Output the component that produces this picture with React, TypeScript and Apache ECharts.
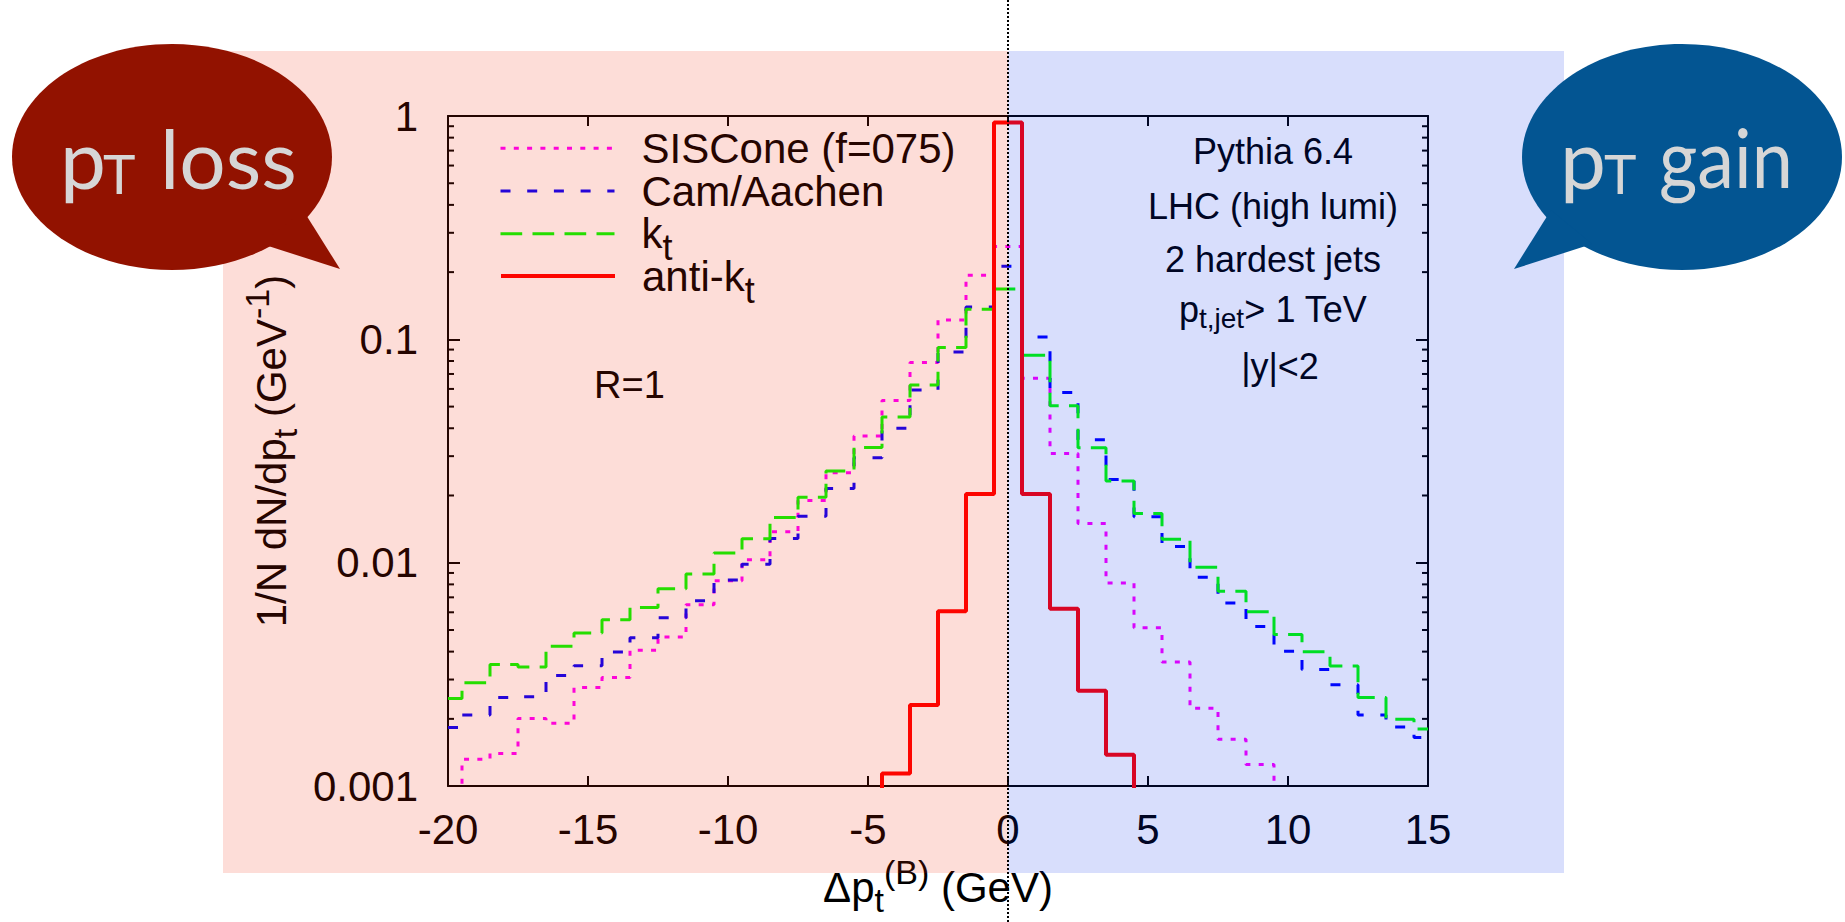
import React, { useEffect, useRef } from 'react';
import * as echarts from 'echarts';

const FONT = '"Liberation Sans", Arial, Helvetica, sans-serif';
const BUBBLE_FONT = 'Lato, "Open Sans", sans-serif';

// bin centres (1 GeV bins, edges at k+0.5)
const binCenters = [-20, -19, -18, -17, -16, -15, -14, -13, -12, -11, -10, -9, -8, -7, -6, -5, -4, -3, -2, -1, 0, 1, 2, 3, 4, 5, 6, 7, 8, 9, 10, 11, 12, 13, 14, 15];

// SISCone (f=075), bins -20 .. 10
const sisconeBins = [-20, -19, -18, -17, -16, -15, -14, -13, -12, -11, -10, -9, -8, -7, -6, -5, -4, -3, -2, -1, 0, 1, 2, 3, 4, 5, 6, 7, 8, 9, 10];
const sisconeValues = [0.0009, 0.00132, 0.0014, 0.00201, 0.00191, 0.00276, 0.00306, 0.00406, 0.00465, 0.00649, 0.0083, 0.0103, 0.01377, 0.01897, 0.0253, 0.0369, 0.0532, 0.0788, 0.1221, 0.1936, 0.2608, 0.0669, 0.0308, 0.015, 0.00811, 0.00511, 0.00359, 0.00223, 0.00162, 0.00125, 0.0009];

// Cam/Aachen, bins -20 .. 15
const camAachenValues = [0.00183, 0.00208, 0.00249, 0.00251, 0.00313, 0.00346, 0.00398, 0.00461, 0.00567, 0.00676, 0.00836, 0.00985, 0.01285, 0.01614, 0.0215, 0.0295, 0.04, 0.0593, 0.0879, 0.1395, 0.2124, 0.1025, 0.0579, 0.0355, 0.0236, 0.01606, 0.01181, 0.00861, 0.0066, 0.00518, 0.00402, 0.00333, 0.00284, 0.00208, 0.00184, 0.00165];

// kt, bins -20 .. 15
const ktValues = [0.00247, 0.0029, 0.0035, 0.00341, 0.00423, 0.00485, 0.00556, 0.00631, 0.00764, 0.00891, 0.01105, 0.01281, 0.01595, 0.01963, 0.02574, 0.0328, 0.0449, 0.0624, 0.0919, 0.1365, 0.168, 0.0849, 0.0505, 0.0327, 0.0232, 0.01663, 0.01273, 0.00955, 0.00745, 0.00604, 0.00477, 0.00399, 0.00345, 0.00249, 0.00199, 0.0018];

// anti-kt, bins -5 .. 5
const antiKtBins = [-5, -4, -3, -2, -1, 0, 1, 2, 3, 4, 5];
const antiKtValues = [0.0008, 0.00114, 0.00231, 0.00606, 0.0203, 0.935, 0.0203, 0.00622, 0.00267, 0.00138, 0.0008];

const xTickLabels = ['-20', '-15', '-10', '-5', '0', '5', '10', '15'];
const yTickLabels = ['0.001', '0.01', '0.1', '1'];
const yMinorTicks = [0.002, 0.003, 0.004, 0.005, 0.006, 0.007, 0.008, 0.009, 0.02, 0.03, 0.04, 0.05, 0.06, 0.07, 0.08, 0.09, 0.2, 0.3, 0.4, 0.5, 0.6, 0.7, 0.8, 0.9];

const seriesNames = ['SISCone (f=075)', 'Cam/Aachen', 'kt', 'anti-kt'];
const seriesColors = ['#ff00ff', '#0000ff', '#00ff00', '#ff0000'];
const seriesWidths = [3, 3, 3, 4];
const seriesDashes: any[] = [[5, 8.3], [10, 16.7], [21.7, 10.3], 'solid'];
const legendCenters = [148.3, 191, 233.7, 276];

const infoLines = ['Pythia 6.4', 'LHC (high lumi)', '2 hardest jets', 'PTJET', '|y|<2'];
const infoCenters = [151.7, 206.7, 259.5, 309, 366];

const pair = (xs: number[], ys: number[]) => xs.map((x, i) => [x, ys[i]]);

const legendLabel = (name: string) => {
  if (name === 'kt') return '{n|k}{s|t}';
  if (name === 'anti-kt') return '{n|anti-k}{s|t}';
  return '{n|' + name + '}';
};

function buildOption() {
  const axisLineStyle = { color: '#000', width: 2 };
  const titleRich = {
    n: { fontSize: 42, fontFamily: FONT, color: '#000', lineHeight: 50, verticalAlign: 'middle' },
    s: { fontSize: 34, fontFamily: FONT, color: '#000', lineHeight: 24, height: 24, verticalAlign: 'bottom' },
    p: { fontSize: 34, fontFamily: FONT, color: '#000', lineHeight: 20, height: 20, verticalAlign: 'top' },
  };
  const legendRich = {
    n: { fontSize: 42, fontFamily: FONT, color: '#000', lineHeight: 42, verticalAlign: 'middle' },
    s: { fontSize: 36, fontFamily: FONT, color: '#000', lineHeight: 14, height: 14, verticalAlign: 'bottom' },
  };
  const lineSeries = (i: number, xs: number[], ys: number[]) => ({
    type: 'line',
    name: seriesNames[i],
    data: pair(xs, ys),
    step: 'middle',
    symbol: 'none',
    showSymbol: false,
    clip: true,
    silent: true,
    z: 3 + i,
    lineStyle: { color: seriesColors[i], width: seriesWidths[i], type: seriesDashes[i] },
    itemStyle: { color: seriesColors[i] },
  });
  return {
    animation: false,
    backgroundColor: '#ffffff',
    grid: { left: 448, top: 116, width: 980, height: 673, containLabel: false },
    xAxis: [
      {
        type: 'value', min: -20, max: 15, interval: 5, position: 'bottom',
        axisLine: { show: true, onZero: false, lineStyle: axisLineStyle },
        axisTick: { show: true, inside: true, length: 10, lineStyle: axisLineStyle },
        splitLine: { show: false },
        axisLabel: {
          show: true, margin: 22, fontSize: 42, fontFamily: FONT, color: '#000',
          formatter: (v: number) => xTickLabels[Math.round((v + 20) / 5)],
        },
        name: '{n|Δp}{s|t}{p|(B)}{n| (GeV)}',
        nameLocation: 'middle', nameGap: 74,
        nameTextStyle: { fontSize: 42, fontFamily: FONT, color: '#000', rich: titleRich },
      },
      {
        type: 'value', min: -20, max: 15, interval: 5, position: 'top',
        axisLine: { show: true, onZero: false, lineStyle: axisLineStyle },
        axisTick: { show: true, inside: true, length: 10, lineStyle: axisLineStyle },
        splitLine: { show: false },
        axisLabel: { show: false },
      },
    ],
    yAxis: [
      {
        type: 'log', logBase: 10, min: 0.001, max: 1, position: 'left',
        axisLine: { show: true, onZero: false, lineStyle: axisLineStyle },
        axisTick: { show: true, inside: true, length: 12, lineStyle: axisLineStyle },
        splitLine: { show: false },
        axisLabel: {
          show: true, margin: 30, fontSize: 42, fontFamily: FONT, color: '#000',
          formatter: (v: number) => yTickLabels[Math.round(Math.log10(v)) + 3],
        },
        name: '{n|1/N dN/dp}{s|t}{n| (GeV}{p|-1}{n|)}',
        nameLocation: 'middle', nameRotate: 90, nameGap: 146,
        nameTextStyle: { fontSize: 42, fontFamily: FONT, color: '#000', rich: titleRich },
      },
      {
        type: 'log', logBase: 10, min: 0.001, max: 1, position: 'right',
        axisLine: { show: true, onZero: false, lineStyle: axisLineStyle },
        axisTick: { show: true, inside: true, length: 12, lineStyle: axisLineStyle },
        splitLine: { show: false },
        axisLabel: { show: false },
      },
    ],
    legend: seriesNames.map((name, i) => ({
      show: true,
      data: [name],
      left: 499,
      top: legendCenters[i] - 21,
      orient: 'vertical',
      padding: 0,
      itemGap: 0,
      itemWidth: 114,
      itemHeight: 42,
      selectedMode: false,
      formatter: (n: string) => legendLabel(n),
      textStyle: { fontSize: 42, fontFamily: FONT, color: '#000', padding: [0, 0, 0, 22], rich: legendRich },
      lineStyle: { color: seriesColors[i], width: seriesWidths[i], type: seriesDashes[i], opacity: 1 },
      itemStyle: { opacity: 0 },
    })),
    series: [
      lineSeries(0, sisconeBins, sisconeValues),
      lineSeries(1, binCenters, camAachenValues),
      lineSeries(2, binCenters, ktValues),
      lineSeries(3, antiKtBins, antiKtValues),
      {
        type: 'custom',
        name: 'minor ticks',
        silent: true,
        clip: false,
        z: 8,
        data: yMinorTicks.map((v) => [-20, v]),
        renderItem: (_params: any, api: any) => {
          const v = api.value(1);
          const l = api.coord([-20, v]);
          const r = api.coord([15, v]);
          return {
            type: 'group',
            children: [
              { type: 'line', shape: { x1: l[0], y1: l[1], x2: l[0] + 6, y2: l[1] }, style: { stroke: '#000', lineWidth: 2 } },
              { type: 'line', shape: { x1: r[0], y1: r[1], x2: r[0] - 6, y2: r[1] }, style: { stroke: '#000', lineWidth: 2 } },
            ],
          };
        },
      },
    ],
  };
}

function textEl(id: string, text: string, x: number, y: number, fontSize: number, fontFamily: string, fill: string, align: string, z: number, scaleX = 1) {
  return {
    id, type: 'text', x, y, z, silent: true, scaleX,
    style: { text, fontSize, fontFamily, fill, align, verticalAlign: 'middle', textAlign: align, textVerticalAlign: 'middle' },
  };
}

function buildGraphic(x0: number) {
  const els: any[] = [];
  els.push({ id: 'pinkOverlay', type: 'rect', silent: true, z: 50, shape: { x: 223, y: 51, width: x0 - 223, height: 822 }, style: { fill: 'rgba(242,33,0,0.153)' } });
  els.push({ id: 'blueOverlay', type: 'rect', silent: true, z: 50, shape: { x: x0, y: 51, width: 1564 - x0, height: 822 }, style: { fill: 'rgba(0,39,235,0.153)' } });

  // annotation texts (under the tint)
  els.push(textEl('rText', 'R=1', 629.5, 385, 38, FONT, '#000', 'center', 10));
  infoLines.forEach((t, i) => {
    if (t === 'PTJET') {
      els.push({
        id: 'info' + i, type: 'text', x: 1273, y: infoCenters[i], z: 10, silent: true,
        style: {
          text: '{n|p}{s|t,jet}{n|> 1 TeV}',
          align: 'center', verticalAlign: 'middle', textAlign: 'center', textVerticalAlign: 'middle',
          rich: {
            n: { fontSize: 36, fontFamily: FONT, fill: '#000', lineHeight: 44, verticalAlign: 'middle' },
            s: { fontSize: 28, fontFamily: FONT, fill: '#000', lineHeight: 26, height: 26, verticalAlign: 'bottom' },
          },
        },
      });
    } else {
      els.push(textEl('info' + i, t, i === 4 ? 1280 : 1273, infoCenters[i], 36, FONT, '#000', 'center', 10));
    }
  });

  // speech bubbles
  const red = '#921200';
  const blue = '#035592';
  els.push({ id: 'lossEllipse', type: 'ellipse', z: 60, silent: true, shape: { cx: 172, cy: 157, rx: 160, ry: 113 }, style: { fill: red } });
  els.push({ id: 'lossTail', type: 'polygon', z: 60, silent: true, shape: { points: [[303, 210], [340, 269], [262, 244]] }, style: { fill: red } });
  els.push({ id: 'gainEllipse', type: 'ellipse', z: 60, silent: true, shape: { cx: 1682, cy: 157, rx: 160, ry: 113 }, style: { fill: blue } });
  els.push({ id: 'gainTail', type: 'polygon', z: 60, silent: true, shape: { points: [[1551, 210], [1514, 269], [1592, 244]] }, style: { fill: blue } });
  const grey = '#d6d6d6';
  els.push(textEl('lossP', 'p', 60, 156.6, 82, BUBBLE_FONT, grey, 'left', 61));
  els.push(textEl('lossT', 'T', 103, 172.5, 55, BUBBLE_FONT, grey, 'left', 61));
  els.push(textEl('lossWord', 'loss', 160, 156.6, 82, BUBBLE_FONT, grey, 'left', 61));
  els.push(textEl('gainP', 'p', 1560, 156.6, 82, BUBBLE_FONT, grey, 'left', 61));
  els.push(textEl('gainT', 'T', 1604, 172.5, 55, BUBBLE_FONT, grey, 'left', 61));
  els.push(textEl('gainWord', 'gain', 1659, 156.6, 82, BUBBLE_FONT, grey, 'left', 61, 0.9));

  // dotted zero line across the whole picture
  els.push({ id: 'zeroLine', type: 'line', z: 70, silent: true, shape: { x1: x0, y1: 0, x2: x0, y2: 922 }, style: { stroke: '#000', lineWidth: 2, lineDash: [2, 2] } });
  return els;
}

export default function App() {
  const ref = useRef<HTMLDivElement>(null);
  useEffect(() => {
    const el = ref.current;
    if (!el) return;
    const chart = echarts.init(el, null, { renderer: 'svg' });
    chart.setOption(buildOption() as any);
    const x0 = chart.convertToPixel({ xAxisIndex: 0 }, 0) as unknown as number;
    chart.setOption({ graphic: buildGraphic(x0) } as any);
    return () => chart.dispose();
  }, []);
  return <div ref={ref} style={{ position: 'fixed', left: 0, top: 0, width: 1845, height: 922 }} />;
}
